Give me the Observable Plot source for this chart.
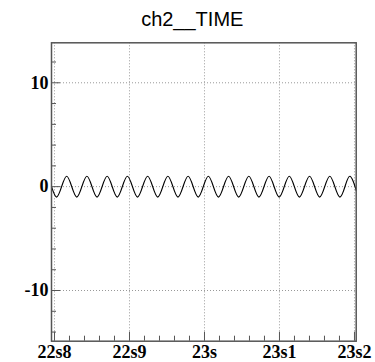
<!DOCTYPE html>
<html><head><meta charset="utf-8">
<script src="https://cdn.jsdelivr.net/npm/d3@7"></script>
<script src="https://cdn.jsdelivr.net/npm/@observablehq/plot@0.6"></script>
<style>html,body{margin:0;padding:0;background:#fff;overflow:hidden}</style>
</head><body><div id="chart"></div>
<script>
const title = "ch2__TIME";
const times = [
  22.79600, 22.80275, 22.80949, 22.81624, 22.82299, 22.82973, 22.83648, 22.84323,
  22.84997, 22.85672, 22.86347, 22.87021, 22.87696, 22.88371, 22.89045, 22.89720,
  22.90395, 22.91069, 22.91744, 22.92419, 22.93093, 22.93768, 22.94443, 22.95117,
  22.95792, 22.96467, 22.97141, 22.97816, 22.98491, 22.99165, 22.99840, 23.00515,
  23.01189, 23.01864, 23.02539, 23.03213, 23.03888, 23.04563, 23.05237, 23.05912,
  23.06587, 23.07261, 23.07936, 23.08611, 23.09285, 23.09960, 23.10635, 23.11309,
  23.11984, 23.12659, 23.13333, 23.14008, 23.14683, 23.15357, 23.16032, 23.16707,
  23.17381, 23.18056, 23.18731, 23.19405, 23.20080, 23.20230
];
const values = [
  0, -1, 0, 1, 0, -1, 0, 1,
  0, -1, 0, 1, 0, -1, 0, 1,
  0, -1, 0, 1, 0, -1, 0, 1,
  0, -1, 0, 1, 0, -1, 0, 1,
  0, -1, 0, 1, 0, -1, 0, 1,
  0, -1, 0, 1, 0, -1, 0, 1,
  0, -1, 0, 1, 0, -1, 0, 1,
  0, -1, 0, 1, 0, -0.35
];
const xTickValues = [22.8, 22.9, 23.0, 23.1, 23.2];
const xTickLabels = ["22s8", "22s9", "23s", "23s1", "23s2"];
const xMinorTicks = [22.82, 22.84, 22.86, 22.88, 22.92, 22.94, 22.96, 22.98,
                     23.02, 23.04, 23.06, 23.08, 23.12, 23.14, 23.16, 23.18];
const yTickValues = [-10, 0, 10];
const yTickLabels = ["-10", "0", "10"];
const yMinorTicks = [-14, -12, -8, -6, -4, -2, 2, 4, 6, 8, 12];
const xDomain = [22.796, 23.2023];
const yDomain = [-14.88, 13.85];

const data = times.map((t, i) => ({t, v: values[i]}));

const W = 375, H = 362, mt = 42.3, mb = 21.3, ml = 51, mr = 19.3;
const pw = W - ml - mr, ph = H - mt - mb;
const serif = "'Liberation Serif','Times New Roman',serif";
const sans = "'Liberation Sans',Arial,Helvetica,sans-serif";
const axisColor = "#555";

const plot = Plot.plot({
  width: W, height: H,
  marginTop: mt, marginBottom: mb, marginLeft: ml, marginRight: mr,
  style: {fontFamily: serif, background: "#fff", overflow: "visible"},
  x: {domain: xDomain},
  y: {domain: yDomain},
  marks: [
    Plot.gridX(xTickValues, {stroke: "#999", strokeOpacity: 1, strokeDasharray: "1,2"}),
    Plot.gridY(yTickValues, {stroke: "#999", strokeOpacity: 1, strokeDasharray: "1,2"}),
    Plot.line(data, {x: "t", y: "v", curve: "natural", stroke: "#000", strokeWidth: 1.2}),
    Plot.tickX(xMinorTicks, {x: d => d, insetTop: ph - 5, stroke: axisColor}),
    Plot.tickX(xTickValues, {x: d => d, insetTop: ph - 9, stroke: axisColor}),
    Plot.tickY(yMinorTicks, {y: d => d, insetRight: pw - 5, stroke: axisColor}),
    Plot.tickY(yTickValues, {y: d => d, insetRight: pw - 9, stroke: axisColor}),
    Plot.axisX(xTickValues, {
      tickSize: 0, tickPadding: 4, label: null,
      tickFormat: d => xTickLabels[xTickValues.indexOf(d)],
      fontSize: 18, fontWeight: "bold", fill: "#000", fontFamily: serif
    }),
    Plot.axisY(yTickValues, {
      tickSize: 0, tickPadding: 3, label: null,
      tickFormat: d => yTickLabels[yTickValues.indexOf(d)],
      fontSize: 18, fontWeight: "bold", fill: "#000", fontFamily: serif
    }),
    Plot.frame({stroke: axisColor, strokeWidth: 1.5}),
    Plot.text([title], {
      frameAnchor: "top", dx: -11.6, dy: -17.3, lineAnchor: "bottom",
      fontSize: 20, fontFamily: sans, fill: "#000"
    })
  ]
});
document.getElementById("chart").appendChild(plot);
</script>
</body></html>
